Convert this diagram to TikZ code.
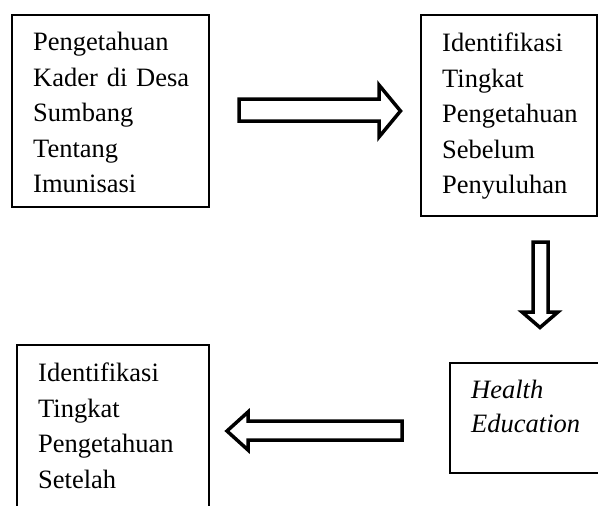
\documentclass[tikz,border=0pt]{standalone}
\usepackage{fontspec}
\setmainfont[WordSpace=0.6]{Liberation Serif}
\begin{document}
\begin{tikzpicture}[x=1pt,y=-1pt,
  boxframe/.style={draw=black,line width=2pt,rectangle,inner sep=0pt},
  boxtext/.style={anchor=base west,inner sep=0pt,text width=170pt,align=left,
    font=\fontsize{26.5pt}{35.5pt}\selectfont},
  blockarrow/.style={draw=black,line width=3.5pt,fill=white,miter limit=10}]
\clip (0,0) rectangle (598,506);
\fill[white] (0,0) rectangle (598,506);
% boxes
\node[boxframe,minimum width=197pt,minimum height=192pt] (b1) at (110.5,111) {};
\node[boxframe,minimum width=176pt,minimum height=201pt] (b2) at (509,115.5) {};
\node[boxframe,minimum width=192pt,minimum height=175pt] (b3) at (113,432.5) {};
\node[boxframe,minimum width=160pt,minimum height=110pt] (b4) at (530,418) {};
% texts
\node[boxtext] (t1) at (33,50.7) {Pengetahuan\\Kader di Desa\\Sumbang\\Tentang\\Imunisasi};
\node[boxtext] (t2) at (442,52) {Identifikasi\\Tingkat\\Pengetahuan\\Sebelum\\Penyuluhan};
\node[boxtext] (t3) at (38,381.7) {Identifikasi\\Tingkat\\Pengetahuan\\Setelah};
\node[boxtext,font=\fontsize{26.5pt}{34pt}\selectfont\itshape] (t4) at (471,398) {Health\\Education};
% block arrows
\draw[blockarrow] (239,99) -- (379,99) -- (379,85) -- (400.5,111) -- (379,137) -- (379,121) -- (239,121) -- cycle;
\draw[blockarrow] (533,242) -- (548,242) -- (548,312) -- (558,312) -- (540,327.5) -- (522,312) -- (533,312) -- cycle;
\draw[blockarrow] (402,421) -- (248,421) -- (248,412) -- (227,431) -- (248,450) -- (248,440) -- (402,440) -- cycle;
\end{tikzpicture}
\end{document}
